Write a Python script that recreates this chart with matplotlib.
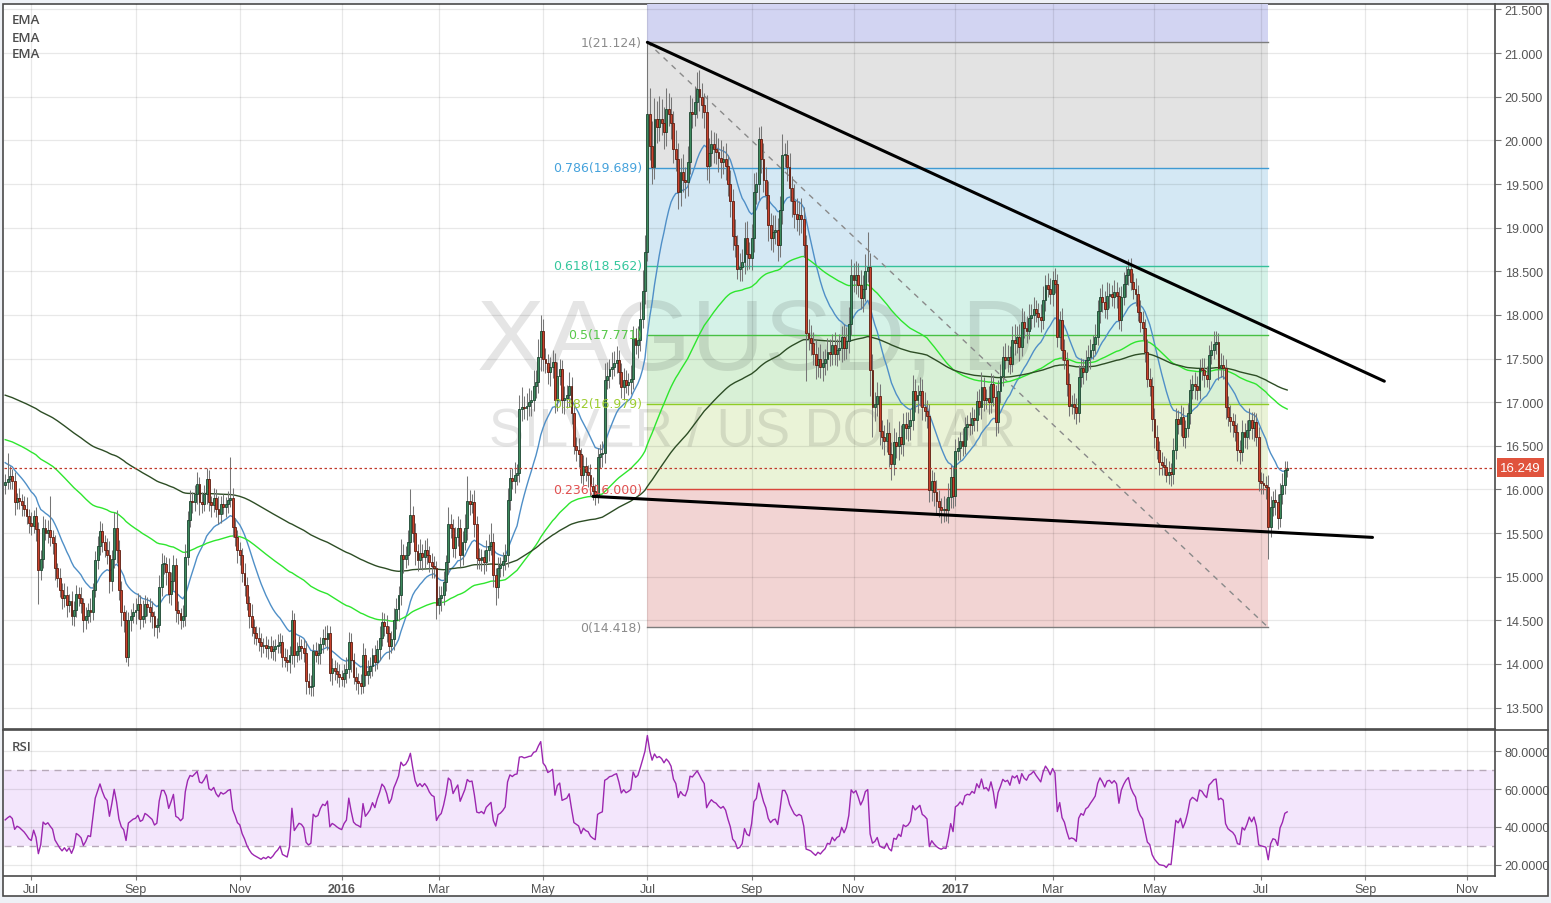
import numpy as np
import pandas as pd
import matplotlib
matplotlib.use("Agg")
import matplotlib.pyplot as plt
from matplotlib.patches import Rectangle
from matplotlib.lines import Line2D

# daily closes XAGUSD, one value per trading day (mid Jun 2015 -> mid Jul 2017)
closes = [
    16.08, 16.12, 16.15, 16.10, 15.85, 15.90, 15.87, 15.82, 15.77, 15.70,
    15.62, 15.58, 15.70, 15.55, 15.08, 15.20, 15.56, 15.50, 15.53, 15.45,
    15.38, 15.10, 14.98, 14.85, 14.75, 14.79, 14.68, 14.72, 14.55, 14.62,
    14.80, 14.76, 14.70, 14.50, 14.55, 14.62, 14.60, 14.85, 15.19, 15.35,
    15.52, 15.40, 15.30, 15.25, 14.95, 15.20, 15.56, 15.30, 14.85, 14.60,
    14.50, 14.08, 14.50, 14.55, 14.60, 14.62, 14.69, 14.52, 14.55, 14.69,
    14.65, 14.60, 14.55, 14.42, 14.45, 14.88, 15.15, 15.15, 15.05, 14.80,
    14.95, 15.13, 14.62, 14.58, 14.50, 14.55, 15.23, 15.65, 15.87, 15.85,
    15.95, 16.06, 15.85, 15.83, 15.95, 16.12, 15.85, 15.82, 15.90, 15.78,
    15.72, 15.83, 15.80, 15.83, 15.88, 15.90, 15.57, 15.45, 15.30, 15.25,
    15.04, 14.90, 14.70, 14.55, 14.42, 14.35, 14.30, 14.25, 14.20, 14.22,
    14.18, 14.20, 14.15, 14.17, 14.20, 14.22, 14.25, 14.08, 14.05, 14.02,
    14.10, 14.50, 14.10, 14.15, 14.20, 14.18, 14.12, 13.80, 13.73, 13.75,
    14.15, 14.10, 14.12, 14.23, 14.30, 14.28, 14.35, 13.90, 13.95, 13.92,
    13.88, 13.85, 13.83, 13.90, 13.94, 14.25, 14.05, 13.85, 13.80, 13.78,
    13.75, 14.10, 13.87, 13.92, 13.98, 14.10, 14.02, 14.17, 14.30, 14.48,
    14.44, 14.35, 14.20, 14.28, 14.50, 14.63, 14.79, 15.25, 15.20, 15.25,
    15.40, 15.71, 15.50, 15.29, 15.19, 15.27, 15.22, 15.30, 15.25, 15.17,
    15.12, 15.10, 14.67, 14.75, 14.79, 14.94, 15.17, 15.60, 15.56, 15.33,
    15.45, 15.56, 15.25, 15.40, 15.56, 15.87, 15.83, 15.85, 15.60, 15.21,
    15.19, 15.22, 15.17, 15.30, 15.35, 15.40, 15.02, 14.88, 15.10, 15.13,
    15.18, 15.25, 15.88, 16.13, 16.10, 16.17, 16.19, 16.92, 16.95, 16.93,
    16.96, 17.00, 17.02, 17.19, 17.23, 17.52, 17.81, 17.50, 17.45, 17.35,
    17.40, 17.46, 17.02, 17.30, 17.38, 17.02, 17.05, 17.08, 17.19, 16.87,
    16.50, 16.45, 16.40, 16.17, 16.27, 16.20, 16.17, 16.04, 15.98, 15.94,
    16.37, 16.40, 16.42, 17.25, 17.30, 17.38, 17.40, 17.45, 17.48, 17.35,
    17.17, 17.25, 17.20, 17.23, 17.27, 17.73, 17.65, 17.71, 17.95, 18.27,
    18.72, 20.30, 19.94, 19.70, 20.25, 20.15, 20.25, 20.20, 20.10, 20.36,
    20.30, 20.20, 19.90, 19.79, 19.41, 19.64, 19.55, 19.52, 19.75, 20.32,
    20.30, 20.44, 20.59, 20.50, 20.40, 20.32, 19.71, 19.85, 19.96, 19.90,
    19.87, 19.80, 19.75, 19.79, 19.71, 19.50, 19.30, 18.90, 18.80, 18.53,
    18.55, 18.61, 18.88, 18.70, 18.65, 18.88, 19.41, 19.50, 20.02, 19.79,
    19.55, 19.37, 19.03, 18.88, 18.95, 18.97, 18.80, 19.20, 19.83, 19.83,
    19.70, 19.45, 19.30, 19.16, 19.10, 19.14, 19.10, 18.80, 17.79, 17.74,
    17.68, 17.55, 17.43, 17.49, 17.40, 17.45, 17.49, 17.58, 17.55, 17.66,
    17.55, 17.60, 17.62, 17.75, 17.62, 17.70, 17.89, 18.46, 18.40, 18.46,
    18.34, 18.19, 18.30, 18.50, 18.55, 17.37, 16.94, 16.98, 17.07, 16.67,
    16.60, 16.55, 16.65, 16.40, 16.29, 16.54, 16.50, 16.60, 16.52, 16.75,
    16.70, 16.73, 16.80, 17.13, 17.03, 17.08, 17.13, 16.94, 16.90, 16.84,
    15.99, 16.10, 15.97, 15.87, 15.80, 15.76, 15.78, 15.76, 15.91, 16.14,
    15.93, 16.44, 16.48, 16.56, 16.50, 16.71, 16.75, 16.74, 16.82, 16.79,
    17.01, 16.95, 17.17, 17.02, 17.05, 17.00, 17.21, 17.06, 16.77, 17.13,
    17.30, 17.52, 17.48, 17.52, 17.44, 17.71, 17.68, 17.75, 17.63, 17.92,
    17.85, 17.82, 17.96, 18.00, 18.07, 18.02, 17.98, 17.94, 18.17, 18.34,
    18.30, 18.24, 18.40, 18.35, 17.75, 17.94, 17.60, 17.48, 17.21, 16.96,
    16.98, 16.95, 16.87, 17.29, 17.39, 17.35, 17.48, 17.52, 17.60, 17.67,
    17.75, 18.05, 18.21, 18.15, 18.07, 18.22, 18.24, 18.20, 18.26, 18.22,
    17.94, 18.21, 18.35, 18.46, 18.53, 18.38, 18.30, 18.24, 18.03, 17.92,
    17.85, 17.58, 17.27, 17.19, 16.81, 16.60, 16.45, 16.31, 16.28, 16.26,
    16.16, 16.20, 16.18, 16.45, 16.81, 16.75, 16.83, 16.60, 16.70, 16.87,
    17.14, 17.21, 17.18, 17.14, 17.39, 17.37, 17.31, 17.27, 17.54, 17.60,
    17.67, 17.69, 17.39, 17.42, 17.39, 16.95, 16.83, 16.78, 16.74, 16.66,
    16.45, 16.43, 16.66, 16.60, 16.68, 16.79, 16.70, 16.77, 16.60, 16.10,
    16.07, 16.05, 16.03, 15.57, 15.80, 15.88, 15.85, 15.67, 15.95, 16.05,
    16.22, 16.249,
]
first_open = 16.05

# wick lengths in cents above / below the candle body
wick_up = [
    10, 30, 12, 8, 10, 6, 12, 8, 10, 14,
    8, 12, 6, 10, 8, 10, 14, 10, 12, 40,
    8, 10, 6, 12, 8, 14, 10, 8, 12, 10,
    10, 8, 12, 6, 10, 8, 14, 8, 10, 12,
    12, 10, 8, 14, 16, 10, 18, 20, 12, 10,
    8, 12, 10, 8, 10, 14, 12, 10, 18, 10,
    8, 10, 12, 6, 8, 14, 12, 10, 8, 16,
    10, 12, 8, 10, 6, 12, 14, 10, 12, 10,
    10, 14, 8, 12, 10, 12, 10, 8, 12, 10,
    14, 10, 12, 8, 10, 47, 12, 10, 8, 10,
    8, 12, 10, 8, 14, 10, 8, 12, 10, 8,
    10, 8, 12, 10, 8, 12, 10, 8, 10, 12,
    10, 12, 8, 10, 12, 8, 10, 14, 10, 12,
    8, 10, 12, 8, 10, 14, 10, 8, 12, 10,
    10, 12, 8, 10, 14, 12, 10, 8, 12, 10,
    10, 14, 8, 12, 10, 8, 12, 10, 14, 12,
    10, 12, 8, 10, 14, 12, 10, 18, 12, 10,
    14, 30, 10, 12, 8, 16, 10, 12, 14, 10,
    10, 12, 8, 14, 10, 12, 8, 20, 12, 10,
    12, 14, 10, 12, 16, 28, 12, 10, 14, 10,
    12, 10, 8, 12, 14, 22, 10, 8, 12, 10,
    10, 12, 14, 10, 12, 14, 10, 16, 22, 12,
    14, 16, 12, 18, 14, 20, 19, 14, 12, 10,
    12, 14, 10, 16, 12, 10, 14, 12, 16, 10,
    12, 10, 14, 8, 12, 10, 8, 12, 10, 8,
    10, 12, 14, 20, 16, 12, 18, 14, 16, 12,
    10, 14, 12, 10, 16, 14, 12, 16, 20, 24,
    20, 82, 30, 28, 24, 20, 26, 22, 18, 24,
    18, 20, 14, 22, 18, 16, 20, 14, 18, 20,
    16, 18, 19, 22, 16, 14, 20, 18, 16, 14,
    18, 16, 20, 14, 18, 12, 16, 14, 20, 12,
    16, 14, 18, 20, 14, 16, 22, 14, 13, 14,
    18, 14, 16, 14, 20, 18, 14, 16, 24, 14,
    18, 16, 14, 20, 18, 16, 20, 14, 12, 16,
    14, 12, 16, 14, 18, 14, 12, 16, 14, 12,
    14, 12, 16, 12, 14, 16, 20, 18, 14, 16,
    14, 18, 16, 20, 40, 16, 18, 14, 16, 14,
    12, 14, 16, 12, 14, 16, 12, 18, 14, 12,
    14, 16, 12, 18, 14, 12, 16, 14, 18, 12,
    14, 12, 10, 14, 12, 10, 14, 12, 16, 14,
    12, 14, 12, 10, 14, 12, 10, 14, 12, 10,
    12, 14, 18, 12, 10, 14, 12, 10, 14, 12,
    14, 12, 16, 14, 12, 16, 18, 12, 14, 16,
    12, 14, 16, 12, 14, 10, 12, 14, 16, 12,
    14, 12, 10, 14, 12, 10, 14, 12, 10, 12,
    10, 12, 10, 14, 12, 10, 12, 14, 12, 10,
    14, 12, 10, 14, 12, 16, 12, 10, 14, 12,
    10, 12, 14, 10, 11, 12, 10, 12, 10, 14,
    12, 10, 14, 12, 10, 12, 14, 10, 12, 10,
    10, 12, 10, 14, 12, 10, 14, 12, 10, 12,
    12, 10, 14, 12, 10, 12, 14, 10, 12, 10,
    14, 12, 10, 14, 12, 10, 12, 14, 10, 12,
    10, 12, 14, 10, 12, 14, 10, 12, 10, 12,
    10, 12, 10, 14, 12, 10, 12, 10, 12, 14,
    10, 8,
]
wick_dn = [
    10, 8, 12, 10, 14, 8, 10, 12, 8, 10,
    12, 10, 8, 14, 39, 12, 10, 8, 12, 10,
    12, 14, 10, 8, 12, 10, 14, 8, 10, 12,
    8, 10, 12, 14, 10, 8, 12, 10, 8, 10,
    10, 12, 8, 10, 14, 12, 10, 14, 12, 16,
    14, 6, 10, 12, 8, 14, 10, 12, 10, 8,
    10, 12, 14, 10, 12, 8, 10, 12, 14, 10,
    12, 10, 14, 12, 10, 8, 12, 10, 8, 12,
    10, 12, 14, 10, 8, 12, 10, 14, 8, 10,
    12, 10, 8, 12, 10, 8, 12, 10, 14, 12,
    10, 12, 8, 14, 10, 12, 8, 10, 12, 8,
    10, 12, 8, 10, 14, 8, 10, 12, 8, 10,
    12, 10, 14, 8, 10, 12, 10, 15, 8, 10,
    12, 8, 10, 12, 10, 8, 12, 10, 14, 10,
    10, 12, 8, 10, 12, 10, 14, 8, 10, 12,
    10, 8, 12, 10, 8, 12, 10, 8, 12, 10,
    12, 10, 14, 8, 12, 10, 14, 12, 16, 10,
    12, 14, 10, 16, 12, 10, 14, 12, 10, 12,
    14, 12, 16, 10, 14, 12, 10, 14, 12, 10,
    12, 10, 14, 12, 10, 14, 12, 10, 14, 12,
    10, 12, 14, 10, 12, 10, 14, 20, 12, 10,
    12, 10, 14, 12, 10, 14, 12, 10, 14, 12,
    14, 12, 16, 12, 14, 12, 16, 14, 12, 14,
    16, 12, 14, 12, 10, 14, 16, 12, 14, 12,
    10, 12, 14, 10, 12, 10, 14, 12, 10, 12,
    10, 12, 14, 12, 10, 14, 12, 10, 12, 14,
    12, 14, 10, 12, 14, 12, 10, 14, 12, 10,
    14, 10, 16, 20, 14, 18, 16, 14, 20, 16,
    14, 18, 16, 14, 20, 16, 14, 18, 16, 14,
    16, 14, 18, 16, 14, 18, 16, 20, 14, 16,
    14, 16, 18, 14, 16, 14, 18, 16, 14, 12,
    14, 16, 14, 18, 12, 14, 16, 14, 18, 16,
    14, 16, 18, 14, 16, 14, 18, 14, 16, 14,
    16, 14, 18, 16, 14, 18, 16, 14, 55, 14,
    14, 12, 16, 14, 12, 16, 14, 12, 14, 12,
    12, 14, 12, 16, 14, 12, 14, 12, 14, 16,
    14, 12, 16, 14, 12, 30, 34, 16, 14, 16,
    14, 16, 12, 14, 18, 12, 14, 16, 12, 14,
    12, 14, 16, 12, 14, 16, 12, 14, 12, 14,
    14, 12, 16, 14, 12, 14, 13, 12, 14, 12,
    14, 12, 10, 14, 12, 10, 14, 12, 10, 12,
    12, 10, 14, 12, 10, 14, 12, 10, 16, 12,
    14, 12, 10, 14, 12, 10, 14, 12, 16, 10,
    12, 14, 10, 12, 14, 10, 12, 14, 10, 12,
    10, 12, 14, 10, 12, 14, 12, 10, 14, 12,
    10, 14, 12, 10, 12, 14, 10, 12, 14, 10,
    12, 10, 14, 12, 10, 12, 14, 10, 12, 14,
    10, 12, 10, 14, 12, 10, 12, 14, 10, 12,
    14, 12, 10, 12, 14, 12, 10, 14, 12, 10,
    8, 10, 14, 12, 10, 12, 14, 10, 12, 10,
    12, 10, 14, 12, 10, 12, 14, 10, 12, 10,
    10, 12, 14, 10, 12, 14, 10, 12, 14, 10,
    12, 14, 10, 12, 14, 10, 12, 14, 10, 12,
    12, 10, 14, 37, 12, 10, 14, 12, 10, 12,
    10, 8,
]

ema_periods = [20, 100, 200]
ema_seeds = [16.33, 16.58, 17.09]
ema_colors = ["#4f8fc7", "#2ee62e", "#2d4d25"]
rsi_seed_gain, rsi_seed_loss = 0.07, 0.093

holidays = ["2015-12-25", "2016-01-01", "2016-12-26", "2017-01-02"]
first_day = "2015-06-16"

fib_start, fib_end = 271, 533
fib_prices = [21.124, 19.689, 18.562, 17.771, 16.979, 16.000, 14.418]
fib_labels = ["1(21.124)", "0.786(19.689)", "0.618(18.562)", "0.5(17.771)",
              "0.382(16.979)", "0.236(16.000)", "0(14.418)"]
fib_top = 25.27
fib_line_colors = ["#7d7d7d", "#3f9ad2", "#35c09a", "#48c045", "#8fcc26", "#d9463b", "#7d7d7d"]
fib_text_colors = ["#8c8c8c", "#45a2dc", "#35c79d", "#57c84a", "#9ccc2e", "#e05050", "#8c8c8c"]
fib_fill_colors = ["#d2d4f2", "#e3e3e3", "#d4e8f4", "#d5f2e8", "#d8f0d6", "#eaf3d7", "#f2d4d3"]

trend_upper = ([271, 582], [21.124, 17.24])
trend_lower = ([248, 577], [15.92, 15.45])
last_price = 16.249

price_ticks = np.arange(13.5, 21.51, 0.5)
rsi_ticks = [20, 40, 60, 80]

# ---------------------------------------------------------------
closes = np.array(closes)
n = len(closes)
assert len(wick_up) == n and len(wick_dn) == n, (n, len(wick_up), len(wick_dn))
opens = np.r_[first_open, closes[:-1]]
highs = np.maximum(opens, closes) + np.array(wick_up) / 100
lows = np.minimum(opens, closes) - np.array(wick_dn) / 100
idx = np.arange(n)


def ema(values, period, seed):
    k = 2 / (period + 1)
    out, prev = [], seed
    for v in values:
        prev = prev + k * (v - prev)
        out.append(prev)
    return np.array(out)


ag, al = rsi_seed_gain, rsi_seed_loss
rsi = []
for d in np.diff(np.r_[first_open, closes]):
    ag = (ag * 13 + max(d, 0)) / 14
    al = (al * 13 + max(-d, 0)) / 14
    rsi.append(100 - 100 / (1 + ag / al))

days = pd.bdate_range(first_day, periods=640, freq="C", holidays=holidays)
tick_pos, tick_lab = [], []
for i in range(1, 629):
    if days[i].month != days[i - 1].month and days[i].month % 2 == 1:
        tick_pos.append(i)
        tick_lab.append(str(days[i].year) if days[i].month == 1 else days[i].strftime("%b"))

W, H = 1551, 904
fx = lambda px: px / W
fy = lambda py: 1 - py / H

fig = plt.figure(figsize=(W / 100, H / 100), dpi=100, facecolor="#eef1f6")
frame = Rectangle((fx(3), fy(897)), fx(1548) - fx(3), fy(5) - fy(897),
                  transform=fig.transFigure, fc="white", ec="#4a4a4a", lw=1.2, zorder=-5)
fig.patches.append(frame)

ax = fig.add_axes([fx(4), fy(730), fx(1495) - fx(4), fy(5) - fy(730)], zorder=2)
ax2 = fig.add_axes([fx(4), fy(877), fx(1495) - fx(4), fy(730) - fy(877)], sharex=ax, zorder=2)
for a in (ax, ax2):
    a.set_facecolor("none")
    for s in ("top", "left"):
        a.spines[s].set_visible(False)
    for s in ("right", "bottom"):
        a.spines[s].set_color("#4a4a4a")
        a.spines[s].set_linewidth(1.2)
    a.yaxis.tick_right()
    a.tick_params(axis="y", direction="out", length=4, color="#777777", labelcolor="#555555",
                  labelsize=9, pad=3)
    a.grid(True, color="black", alpha=0.09, lw=0.9, zorder=0.3)
    a.set_axisbelow(True)

ax.set_xlim(-0.5, 628.7)
ax.set_ylim(13.254, 21.563)
ax.set_yticks(price_ticks)
ax.set_yticklabels([f"{v:.3f}" for v in price_ticks], family="Liberation Sans")
ax.set_xticks(tick_pos)
ax.tick_params(axis="x", length=0, labelbottom=False)

# fibonacci retracement
bounds = [fib_top] + fib_prices
for k in range(len(bounds) - 1):
    ax.fill_between([fib_start, fib_end], bounds[k + 1], bounds[k], color=fib_fill_colors[k],
                    lw=0, zorder=0.2)
for p, lc, tc, lab in zip(fib_prices, fib_line_colors, fib_text_colors, fib_labels):
    ax.plot([fib_start, fib_end], [p, p], color=lc, lw=1, zorder=0.6)
    ax.annotate(lab, (fib_start, p), xytext=(-4, 0), textcoords="offset points",
                ha="right", va="center", fontsize=9, color=tc, zorder=3)
ax.plot([fib_start, fib_end], [fib_prices[0], fib_prices[-1]], color="#8a8a8a", lw=1,
        ls=(0, (4, 4)), zorder=0.7)

# watermark
ax.text(0.504, 0.497, "XAGUSD, D", transform=ax.transAxes, ha="center", va="baseline",
        fontsize=73, family="Liberation Sans", color="black", alpha=0.10, zorder=0.4)
ax.text(0.502, 0.392, "SILVER / US DOLLAR", transform=ax.transAxes, ha="center", va="baseline",
        fontsize=38, family="Liberation Sans", color="black", alpha=0.10, zorder=0.4)

# EMAs
for per, seed, col in zip(ema_periods, ema_seeds, ema_colors):
    ax.plot(idx, ema(closes, per, seed), color=col, lw=1, zorder=1.5)

# candles
up = closes >= opens
ax.vlines(idx, lows, highs, color="#767676", lw=0.75, zorder=1.8)
body_lo = np.minimum(opens, closes)
body_h = np.maximum(np.abs(closes - opens), 0.01)
ax.bar(idx[up], body_h[up], bottom=body_lo[up], width=0.8, color="#3d8a5d",
       edgecolor="#1c4430", lw=0.6, zorder=2)
ax.bar(idx[~up], body_h[~up], bottom=body_lo[~up], width=0.8, color="#c9432d",
       edgecolor="#5c1c10", lw=0.6, zorder=2)

# trend lines and last price
ax.plot(*trend_upper, color="black", lw=2.2, zorder=3, solid_capstyle="round")
ax.plot(*trend_lower, color="black", lw=2.2, zorder=3, solid_capstyle="round")
ax.axhline(last_price, color="#c0392b", lw=0.9, ls=(0, (2, 2)), zorder=2.5)
ax.annotate(f"{last_price:.3f}", xy=(1, last_price), xycoords=("axes fraction", "data"),
            xytext=(3.5, 0), textcoords="offset points", ha="left", va="center",
            fontsize=9.5, family="Liberation Sans", color="white", annotation_clip=False,
            bbox=dict(boxstyle="square,pad=0.25", fc="#e0533d", ec="none"), zorder=5)

# RSI panel
ax2.set_ylim(14.2, 91.6)
ax2.set_yticks(rsi_ticks)
ax2.set_yticklabels([f"{v:.4f}" for v in rsi_ticks], family="Liberation Sans")
ax2.axhspan(30, 70, color="#f3e6fc", lw=0, zorder=0.2)
for lvl in (30, 70):
    ax2.axhline(lvl, color="#b7a9b9", lw=1, ls=(0, (5, 4)), zorder=0.5)
ax2.plot(idx, rsi, color="#9c27b0", lw=1, zorder=2)
ax2.set_xticks(tick_pos)
ax2.set_xticklabels(tick_lab, family="Liberation Sans")
ax2.tick_params(axis="x", direction="out", length=3, color="#777777", labelcolor="#555555",
                labelsize=9, pad=2)
for lbl in ax2.get_xticklabels():
    if lbl.get_text().isdigit():
        lbl.set_fontweight("bold")

fig.add_artist(Line2D([fx(3), fx(1548)], [fy(730.5), fy(730.5)], color="#4a4a4a", lw=1.2))
for y in [21, 38, 55]:
    fig.text(fx(12), fy(y), "EMA", ha="left", va="center", fontsize=9.5, color="#4d4d4d",
             family="Open Sans", fontweight="semibold")
fig.text(fx(12), fy(748), "RSI", ha="left", va="center", fontsize=9.5, color="#4d4d4d",
         family="Open Sans", fontweight="semibold")

fig.savefig("out.png", dpi=100, facecolor=fig.get_facecolor())
